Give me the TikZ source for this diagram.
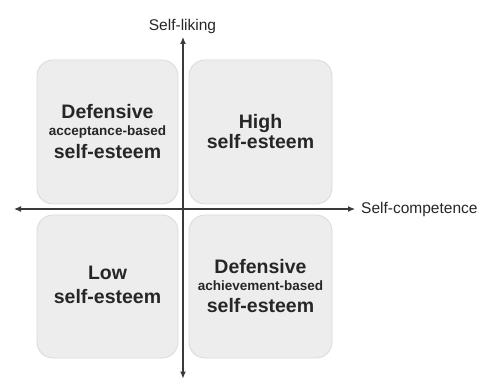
\documentclass[tikz,border=0pt]{standalone}
\usepackage{fontspec}
\setmainfont{Liberation Sans}
\usetikzlibrary{arrows.meta}
\definecolor{boxfill}{HTML}{EDEDED}
\definecolor{boxline}{HTML}{DADADA}
\definecolor{txt}{HTML}{262626}
\definecolor{axis}{HTML}{3A3A3A}
\tikzset{
  quad/.style={draw=boxline, fill=boxfill, line width=0.8pt, rounded corners=16pt, inner sep=0pt},
  big/.style={anchor=base, text=txt, font=\fontsize{19.5}{20}\selectfont\bfseries, inner sep=0pt},
  small/.style={anchor=base, text=txt, font=\fontsize{13.5}{14}\selectfont\bfseries, inner sep=0pt},
  axlabel/.style={text=txt, font=\fontsize{15.5}{16}\selectfont, inner sep=0pt},
  axline/.style={draw=axis, line width=1.1pt, -{Latex[length=7pt,width=6pt]}}
}
\begin{document}
\begin{tikzpicture}[x=1pt,y=1pt]
\useasboundingbox (0,0) rectangle (489,380);
% boxes
\node[quad, minimum width=141pt, minimum height=144pt] (tl) at (107.5,248) {};
\node[quad, minimum width=143pt, minimum height=144pt] (tr) at (260.5,248) {};
\node[quad, minimum width=141pt, minimum height=143pt] (bl) at (107.5,93.5) {};
\node[quad, minimum width=143pt, minimum height=143pt] (br) at (260.5,93.5) {};
% axes
\coordinate (vtop) at (183,343);
\coordinate (vbot) at (183,1.5);
\coordinate (hleft) at (14,171);
\coordinate (hright) at (355,171);
\coordinate (c) at (183,171);
\draw[axline] (c) -- (vtop);
\draw[axline] (c) -- (vbot);
\draw[axline] (c) -- (hleft);
\draw[axline] (c) -- (hright);
\node[axlabel, anchor=south] (sl) at (182.5,346) {Self-liking};
\node[axlabel, anchor=west] (sc) at (361,171) {Self-competence};
% texts
\node[big] (tl1) at (107.5,261.7) {Defensive};
\node[small] (tl2) at (107.5,244.3) {acceptance-based};
\node[big] (tl3) at (107.5,221.7) {self-esteem};
\node[big] (tr1) at (260.5,251.7) {High};
\node[big] (tr2) at (260.5,231.8) {self-esteem};
\node[big] (bl1) at (107.5,100) {Low};
\node[big] (bl2) at (107.5,77) {self-esteem};
\node[big] (br1) at (260.5,106.7) {Defensive};
\node[small] (br2) at (260.5,89.3) {achievement-based};
\node[big] (br3) at (260.5,67.3) {self-esteem};
\end{tikzpicture}
\end{document}
